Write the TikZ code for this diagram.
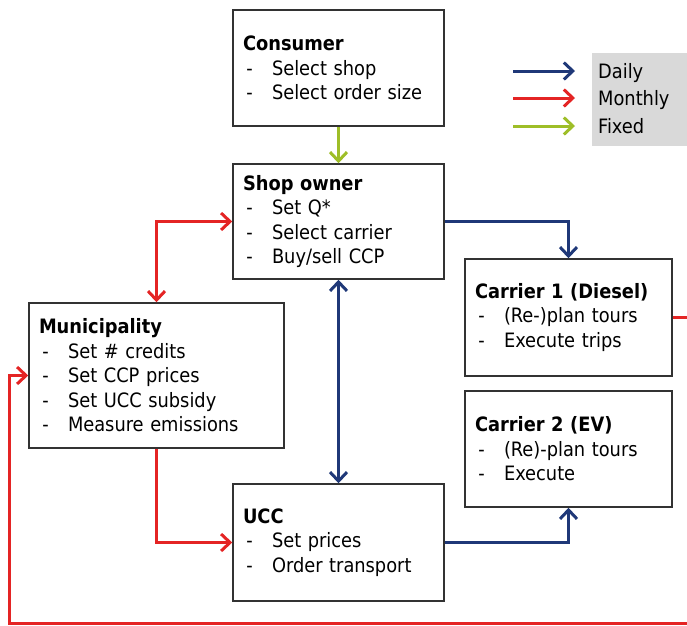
\documentclass[tikz,border=0pt]{standalone}
\usepackage{fontspec}
\setmainfont{DejaVu Sans Condensed}
\usetikzlibrary{arrows.meta}

\definecolor{dailyblue}{RGB}{31,56,120}
\definecolor{monthlyred}{RGB}{228,36,36}
\definecolor{fixedgreen}{RGB}{158,190,40}
\definecolor{boxgray}{RGB}{50,50,50}
\definecolor{legendgray}{RGB}{217,217,217}

\newcommand{\boxfont}{\fontsize{19.8}{24.5}\selectfont}
\newcommand{\itm}[1]{\makebox[29pt][l]{\,-}#1}

\begin{document}
\begin{tikzpicture}[x=1pt,y=-1pt,
    >={Straight Barb[length=9pt,width=17pt]},
    box/.style={draw=boxgray,line width=1.5pt,align=left,inner xsep=10pt,
      inner ysep=0pt,font=\boxfont},
    legendtext/.style={anchor=west,inner sep=0pt,text height=14pt,
      text depth=0pt,font=\boxfont},
    dailyline/.style={draw=dailyblue,line width=3pt},
    monthlyline/.style={draw=monthlyred,line width=3pt},
    fixedline/.style={draw=fixedgreen,line width=3pt}]
  \clip (0,0) rectangle (687,625);

  % legend
  \fill[legendgray] (592,53) rectangle (687,146);
  \node[legendtext] (ld) at (598,71) {Daily};
  \node[legendtext] (lm) at (598,98) {Monthly};
  \node[legendtext] (lf) at (598,126) {Fixed};
  \coordinate (ad) at (513,71);
  \coordinate (am) at (513,98);
  \coordinate (af) at (513,126);
  \draw[dailyline,->,shorten >=23pt] (ad) -- (ld.west);
  \draw[monthlyline,->,shorten >=23pt] (am) -- (lm.west);
  \draw[fixedline,->,shorten >=23pt] (af) -- (lf.west);

  % agents
  \node[box,text width=191pt,minimum height=116pt] (cons) at (338.5,68)
    {\textbf{Consumer}\\ \itm{Select shop}\\ \itm{Select order size}};
  \node[box,text width=191pt,minimum height=115pt] (shop) at (338.5,221.5)
    {\textbf{Shop owner}\\ \itm{Set Q*}\\ \itm{Select carrier}\\ \itm{Buy/sell CCP}};
  \node[box,text width=235pt,minimum height=145pt] (muni) at (156.5,375.5)
    {\textbf{Municipality}\\ \itm{Set \# credits}\\ \itm{Set CCP prices}\\
     \itm{Set UCC subsidy}\\ \itm{Measure emissions}};
  \node[box,text width=187pt,minimum height=117pt] (car1) at (568.5,317.5)
    {\textbf{Carrier 1 (Diesel)}\\ \itm{(Re-)plan tours}\\ \itm{Execute trips}};
  \node[box,text width=187pt,minimum height=116pt] (car2) at (568.5,449)
    {\textbf{Carrier 2 (EV)}\\ \itm{(Re)-plan tours}\\ \itm{Execute}};
  \node[box,text width=191pt,minimum height=117pt] (ucc) at (338.5,542.5)
    {\textbf{UCC}\\ \itm{Set prices}\\ \itm{Order transport}};

  % flows
  \draw[fixedline,->] (cons) -- (shop);
  \draw[dailyline,<->] (shop) -- (ucc);
  \draw[dailyline,->] (shop.east) -| (car1.north);
  \draw[dailyline,->] (ucc.east) -| (car2.south);
  \draw[monthlyline,<->] (shop.west) -| (muni.north);
  \draw[monthlyline,->] (muni.south) |- (ucc.west);

  % feedback loop, runs off the right edge
  \coordinate (out1) at (695,317.5);
  \coordinate (out2) at (695,623);
  \coordinate (corner) at (9,623);
  \draw[monthlyline] (car1.east) -- (out1);
  \draw[monthlyline,->] (out2) -- (corner) |- (muni.west);
\end{tikzpicture}
\end{document}
